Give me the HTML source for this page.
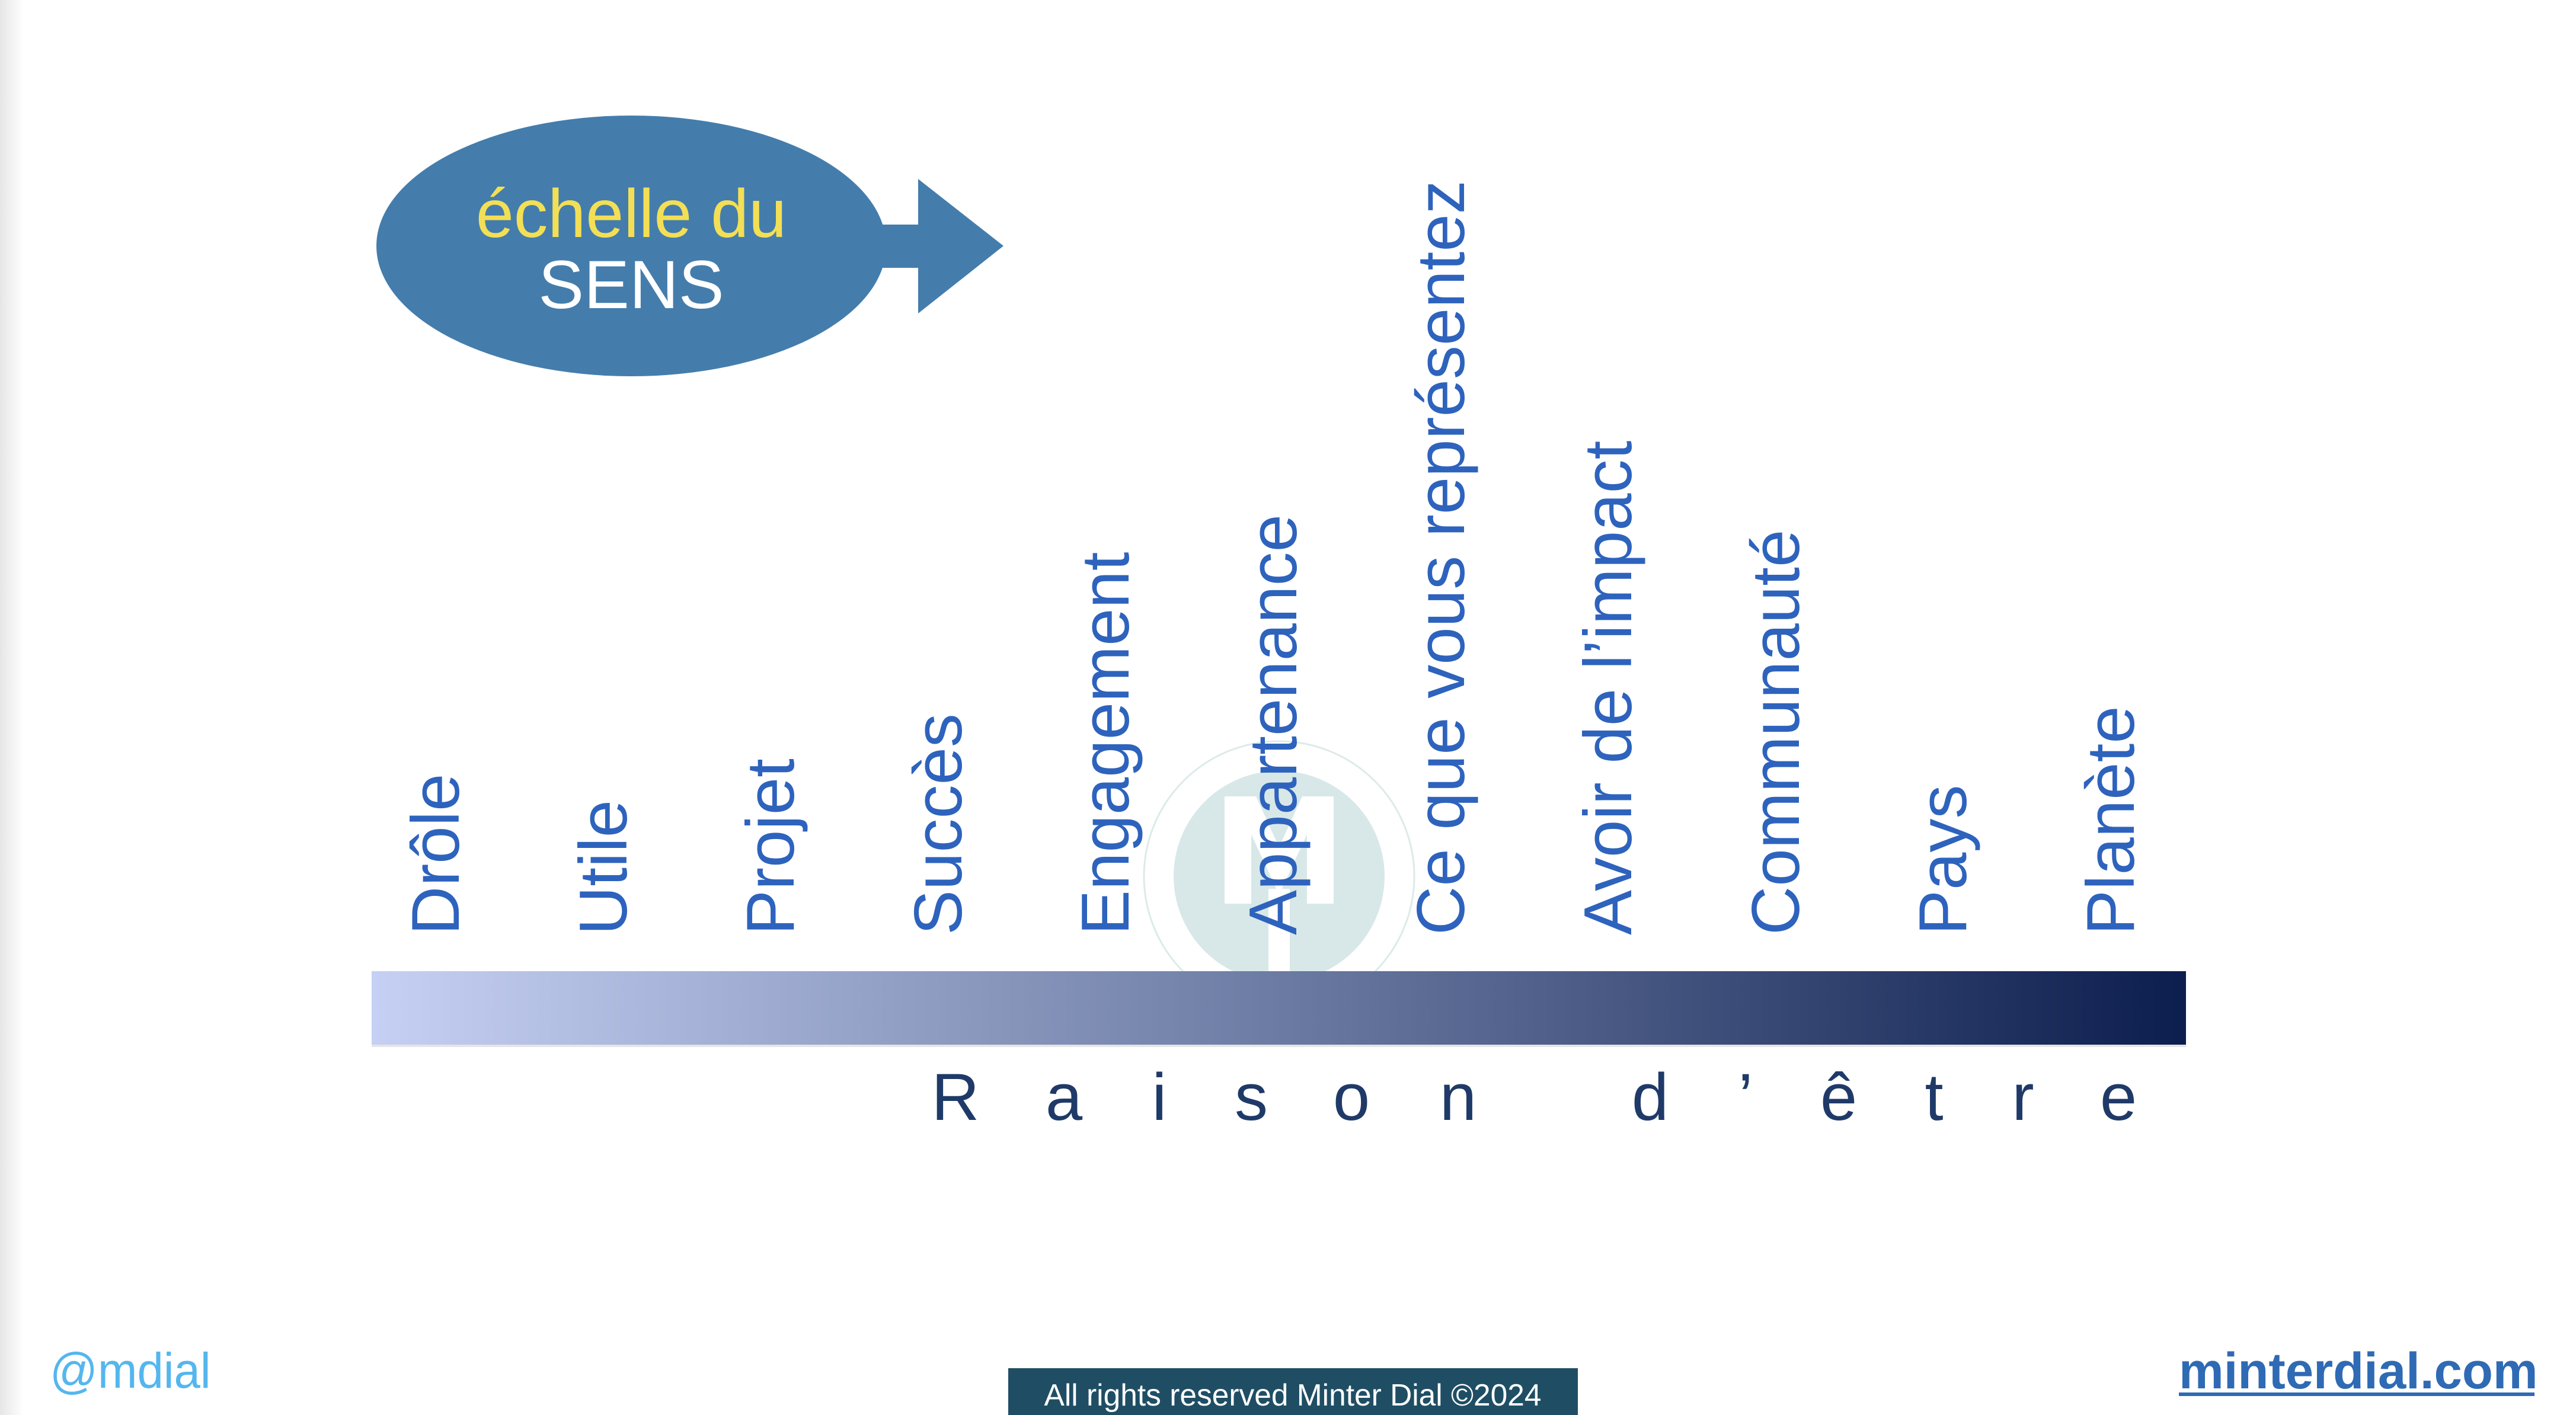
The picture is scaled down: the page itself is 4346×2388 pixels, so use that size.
<!DOCTYPE html>
<html><head><meta charset="utf-8">
<style>
html,body{margin:0;padding:0;}
body{width:4346px;height:2388px;overflow:hidden;background:#fff;position:relative;font-family:"Liberation Sans",sans-serif;}
svg{position:absolute;left:0;top:0;}
</style></head>
<body>
<svg width="4346" height="2388" viewBox="0 0 4346 2388" xmlns="http://www.w3.org/2000/svg">
<defs>
<linearGradient id="bar" x1="0" y1="0" x2="1" y2="0">
<stop offset="0" stop-color="#c6d0f4"/>
<stop offset="0.45" stop-color="#7584ab"/>
<stop offset="1" stop-color="#0c1e4e"/>
</linearGradient>
<linearGradient id="edge" x1="0" y1="0" x2="1" y2="0">
<stop offset="0" stop-color="#e6e6e6"/>
<stop offset="1" stop-color="#ffffff"/>
</linearGradient>
</defs>
<rect x="0" y="0" width="40" height="2388" fill="url(#edge)"/>

<!-- watermark -->
<circle cx="2158" cy="1479" r="228" fill="none" stroke="#dcebea" stroke-width="3"/>
<circle cx="2158" cy="1479" r="178" fill="#d8e8e8"/>
<polygon points="2066,1344 2119,1344 2158,1430 2197,1344 2250,1344 2250,1525 2205,1525 2205,1408 2158,1510 2111,1408 2111,1525 2066,1525" fill="#fff"/>
<rect x="2140" y="1500" width="36" height="150" fill="#fff"/>

<!-- bar -->
<rect x="627" y="1643" width="3061" height="124" fill="#ccc" opacity="0.5"/>
<rect x="627" y="1639" width="3061" height="124" fill="url(#bar)"/>

<!-- bubble -->
<ellipse cx="1065" cy="415" rx="430" ry="220" fill="#447dac"/>
<rect x="1480" y="379" width="72" height="73" fill="#447dac"/>
<polygon points="1549,302 1693,415 1549,529" fill="#447dac"/>
<text x="1065" y="400" text-anchor="middle" font-family="Liberation Sans, sans-serif" font-size="115" fill="#f3df55">échelle du</text>
<text x="1065" y="520" text-anchor="middle" font-family="Liberation Sans, sans-serif" font-size="115" fill="#ffffff">SENS</text>

<!-- labels -->
<g font-family="Liberation Sans, sans-serif" font-size="114" fill="#2e63bd">
<text transform="translate(774,1578) rotate(-90)">Drôle</text>
<text transform="translate(1057,1578) rotate(-90)">Utile</text>
<text transform="translate(1339,1578) rotate(-90)">Projet</text>
<text transform="translate(1622,1578) rotate(-90)">Succès</text>
<text transform="translate(1904,1578) rotate(-90)">Engagement</text>
<text transform="translate(2187,1578) rotate(-90)">Appartenance</text>
<text transform="translate(2470,1578) rotate(-90)">Ce que vous représentez</text>
<text transform="translate(2752,1578) rotate(-90)">Avoir de l’impact</text>
<text transform="translate(3035,1578) rotate(-90)">Communauté</text>
<text transform="translate(3317,1578) rotate(-90)">Pays</text>
<text transform="translate(3600,1578) rotate(-90)">Planète</text>
</g>

<!-- Raison d'être -->
<g font-family="Liberation Sans, sans-serif" font-size="112" fill="#1f3a68" text-anchor="middle">
<text x="1612" y="1890">R</text>
<text x="1795" y="1890">a</text>
<text x="1956" y="1890">i</text>
<text x="2111" y="1890">s</text>
<text x="2280" y="1890">o</text>
<text x="2460" y="1890">n</text>
<text x="2784" y="1890">d</text>
<text x="2945" y="1890">’</text>
<text x="3102" y="1890">ê</text>
<text x="3263" y="1890">t</text>
<text x="3413" y="1890">r</text>
<text x="3574" y="1890">e</text>
</g>

<!-- footer -->
<text transform="translate(84,2342) scale(0.95,1)" font-family="Liberation Sans, sans-serif" font-size="84" fill="#55b6ee">@mdial</text>
<rect x="1701" y="2309" width="961" height="79" fill="#1f4e64"/>
<text x="0" y="0" text-anchor="middle" font-family="Liberation Sans, sans-serif" font-size="52" fill="#fff" transform="translate(2181,2372) scale(0.99,1)">All rights reserved Minter Dial ©2024</text>
<text transform="translate(3676,2343) scale(0.99,1)" font-family="Liberation Sans, sans-serif" font-weight="bold" font-size="86" fill="#2f6ab4">minterdial.com</text>
<rect x="3676" y="2350" width="600" height="6" fill="#2f6ab4"/>
</svg>
</body></html>
